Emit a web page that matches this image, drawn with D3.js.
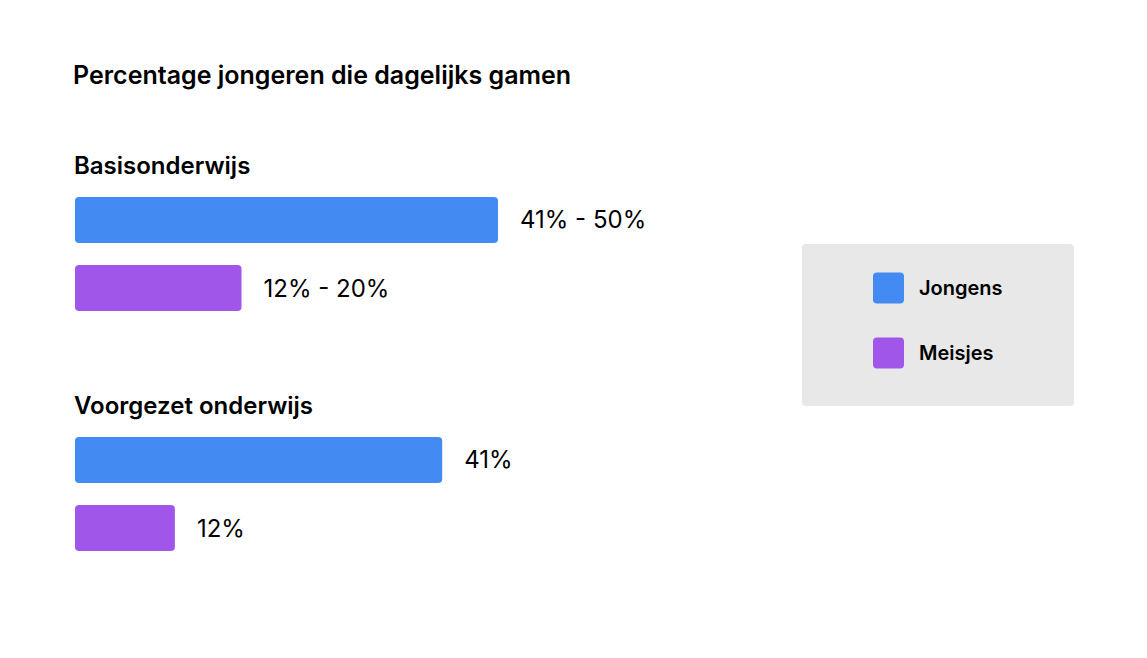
<!DOCTYPE html>
<html>
<head>
<meta charset="utf-8">
<script src="https://cdn.jsdelivr.net/npm/d3@7"></script>
<style>
  html, body { margin: 0; padding: 0; background: #ffffff; }
  svg { display: block; font-family: Inter, "Noto Sans", sans-serif; }
</style>
</head>
<body>
<svg id="chart" width="1147" height="658"></svg>
<script>
const title = "Percentage jongeren die dagelijks gamen";
const groups = ["Basisonderwijs", "Voorgezet onderwijs"];
const series = ["Jongens", "Meisjes"];
const colors = ["#438af2", "#a056e8"];
// bar lengths (percent scale)
const basisValues = [47, 18.5];
const voortgezetValues = [40.8, 11.1];
const basisLabels = ["41% - 50%", "12% - 20%"];
const voortgezetLabels = ["41%", "12%"];

const rows = [];
[basisValues, voortgezetValues].forEach((vals, gi) => {
  const labs = gi === 0 ? basisLabels : voortgezetLabels;
  vals.forEach((v, si) => rows.push({ group: groups[gi], series: series[si], value: v, label: labs[si] }));
});

const svg = d3.select("#chart");

const x = d3.scaleLinear().domain([0, 50]).range([75, 525]);
const yGroup = d3.scalePoint().domain(groups).range([165, 405]);
const yInner = d3.scaleBand().domain(series).range([32, 146]).paddingInner(0.324);
const color = d3.scaleOrdinal().domain(series).range(colors);

svg.append("text")
  .attr("x", 73).attr("y", 75)
  .attr("dominant-baseline", "central")
  .attr("font-size", 25).attr("font-weight", 600).attr("fill", "#000")
  .text(title);

svg.selectAll(".glabel").data(groups).join("text")
  .attr("class", "glabel")
  .attr("x", 74).attr("y", d => yGroup(d))
  .attr("dominant-baseline", "central")
  .attr("font-size", 24).attr("font-weight", 600).attr("fill", "#000")
  .text(d => d);

svg.selectAll(".bar").data(rows).join("rect")
  .attr("class", "bar")
  .attr("x", x(0))
  .attr("y", d => yGroup(d.group) + yInner(d.series))
  .attr("width", d => x(d.value) - x(0))
  .attr("height", yInner.bandwidth())
  .attr("rx", 4).attr("ry", 4)
  .attr("fill", d => color(d.series));

svg.selectAll(".vlabel").data(rows).join("text")
  .attr("class", "vlabel")
  .attr("x", d => x(d.value) + 22)
  .attr("y", d => yGroup(d.group) + yInner(d.series) + yInner.bandwidth() / 2)
  .attr("dominant-baseline", "central")
  .attr("font-size", 24).attr("font-weight", 400).attr("fill", "#000")
  .text(d => d.label);

// legend
const legend = svg.append("g");
legend.append("rect")
  .attr("x", 802).attr("y", 244).attr("width", 272).attr("height", 162)
  .attr("rx", 4).attr("ry", 4).attr("fill", "#e8e8e8");
const ly = d3.scalePoint().domain(series).range([288, 353]);
legend.selectAll(".sw").data(series).join("rect")
  .attr("class", "sw")
  .attr("x", 873).attr("y", d => ly(d) - 15.5)
  .attr("width", 31).attr("height", 31)
  .attr("rx", 4).attr("ry", 4)
  .attr("fill", d => color(d));
legend.selectAll(".lt").data(series).join("text")
  .attr("class", "lt")
  .attr("x", 919).attr("y", d => ly(d))
  .attr("dominant-baseline", "central")
  .attr("font-size", 20).attr("font-weight", 600).attr("fill", "#000")
  .text(d => d);
</script>
</body>
</html>
